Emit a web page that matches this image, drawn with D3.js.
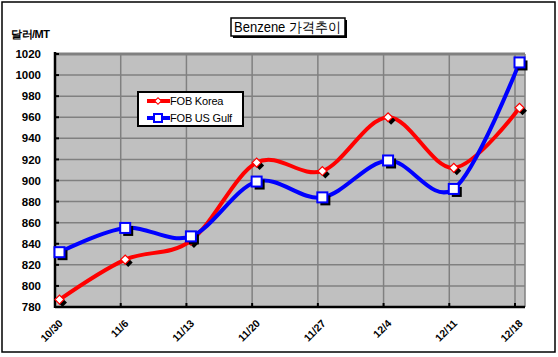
<!DOCTYPE html>
<html><head><meta charset="utf-8">
<script src="https://cdn.jsdelivr.net/npm/d3@7"></script>
<style>body{margin:0;background:#fff}svg{display:block}text{font-family:Arial,"Liberation Sans",sans-serif}</style>
</head><body>
<script>
const categories = ["10/30","11/6","11/13","11/20","11/27","12/4","12/11","12/18"];
const fobKorea = [787, 825, 843, 917, 909, 960, 912, 969];
const fobUSGulf = [832, 855, 847, 899, 884, 919, 892, 1012];
const yTicks = [780,800,820,840,860,880,900,920,940,960,980,1000,1020];
const seriesNames = ["FOB Korea","FOB US Gulf"];
const seriesColors = ["#FF0000","#0000FF"];

const W = 558, H = 357;
const svg = d3.select("body").append("svg").attr("width", W).attr("height", H);

// outer border
svg.append("rect").attr("x",2).attr("y",2).attr("width",553).attr("height",350)
  .attr("fill","#fff").attr("stroke","#000").attr("stroke-width",1.5);

const plot = {l:55, r:525, t:54, b:307};
const y = d3.scaleLinear().domain([780,1020]).range([plot.b, plot.t]);
const x = d3.scalePoint().domain(categories).range([59.5, 519.5]);
const gridOff = -4.5;

// plot area
svg.append("rect").attr("x",plot.l).attr("y",plot.t).attr("width",plot.r-plot.l).attr("height",plot.b-plot.t)
  .attr("fill","#C0C0C0");

// horizontal gridlines
svg.append("g").selectAll("line").data(yTicks.filter(d=>d>780)).join("line")
  .attr("x1",plot.l).attr("x2",plot.r).attr("y1",d=>y(d)).attr("y2",d=>y(d))
  .attr("stroke","#808080").attr("stroke-width",d=>d===1020?3:1.5);
// vertical gridlines
svg.append("g").selectAll("line").data(categories.slice(1)).join("line")
  .attr("x1",d=>x(d)+gridOff).attr("x2",d=>x(d)+gridOff).attr("y1",plot.t).attr("y2",plot.b)
  .attr("stroke","#808080").attr("stroke-width",1.5);
// right edge
svg.append("line").attr("x1",plot.r).attr("x2",plot.r).attr("y1",plot.t).attr("y2",plot.b)
  .attr("stroke","#808080").attr("stroke-width",1.5);

// axes
svg.append("line").attr("x1",plot.l).attr("x2",plot.l).attr("y1",plot.t-2).attr("y2",plot.b+1)
  .attr("stroke","#000").attr("stroke-width",2.5);
svg.append("line").attr("x1",plot.l).attr("x2",plot.r).attr("y1",plot.b).attr("y2",plot.b)
  .attr("stroke","#000").attr("stroke-width",2.5);
// y tick marks
svg.append("g").selectAll("line").data(yTicks).join("line")
  .attr("x1",plot.l).attr("x2",plot.l+4).attr("y1",d=>y(d)).attr("y2",d=>y(d))
  .attr("stroke","#000").attr("stroke-width",2);
// x tick marks
svg.append("g").selectAll("line").data(categories.slice(1)).join("line")
  .attr("x1",d=>x(d)+gridOff).attr("x2",d=>x(d)+gridOff).attr("y1",plot.b).attr("y2",plot.b-4)
  .attr("stroke","#000").attr("stroke-width",2);

// y labels
svg.append("g").selectAll("text").data(yTicks).join("text")
  .attr("x",41).attr("y",d=>y(d)).attr("dy","0.36em").attr("text-anchor","end")
  .attr("font-size",11.5).attr("font-weight","bold").text(d=>d);
// x labels
svg.append("g").selectAll("text").data(categories).join("text")
  .attr("transform",d=>`translate(${x(d)+4},${plot.b+17}) rotate(-45)`)
  .attr("text-anchor","end").attr("font-size",10.5).attr("font-weight","bold").text(d=>d);

// unit
svg.append("text").attr("x",11).attr("y",38).attr("font-size",11).attr("font-weight","bold")
  .attr("font-family","'Noto Sans CJK KR',sans-serif").attr("letter-spacing",-0.5).text("달러/MT");

// title
svg.append("rect").attr("x",233).attr("y",20).attr("width",114).attr("height",18).attr("fill","#000");
svg.append("rect").attr("x",231).attr("y",18).attr("width",114).attr("height",18).attr("fill","#fff")
  .attr("stroke","#000").attr("stroke-width",1.5);
svg.append("text").attr("x",234).attr("y",32).attr("font-size",14)
  .attr("textLength",107).attr("lengthAdjust","spacingAndGlyphs")
  .attr("font-family","Arial,'Noto Sans CJK KR',sans-serif").text("Benzene 가격추이");

// lines
const line = d3.line().x((d,i)=>x(categories[i])).y(d=>y(d)).curve(d3.curveCatmullRom.alpha(0));
const seriesData = [fobKorea, fobUSGulf];
seriesData.forEach((vals,si)=>{
  svg.append("path").datum(vals).attr("d",line).attr("fill","none")
    .attr("stroke",seriesColors[si]).attr("stroke-width",4).attr("stroke-linejoin","round");
});
// markers
const diamond = d3.symbol().type(d3.symbolSquare).size(40);
seriesData.forEach((vals,si)=>{
  const g = svg.append("g");
  vals.forEach((v,i)=>{
    const cx = x(categories[i]), cy = y(v);
    if(si===0){
      g.append("path").attr("d",diamond()).attr("transform",`translate(${cx+3},${cy+3}) rotate(45)`).attr("fill","#000");
      g.append("path").attr("d",diamond()).attr("transform",`translate(${cx},${cy}) rotate(45)`)
        .attr("fill","#fff").attr("stroke",seriesColors[si]).attr("stroke-width",1.2);
    } else {
      g.append("rect").attr("x",cx-5+3).attr("y",cy-5+3).attr("width",10).attr("height",10).attr("fill","#000");
      g.append("rect").attr("x",cx-5).attr("y",cy-5).attr("width",10).attr("height",10)
        .attr("fill","#fff").attr("stroke",seriesColors[si]).attr("stroke-width",2);
    }
  });
});

// legend
const lg = svg.append("g");
lg.append("rect").attr("x",138).attr("y",92).attr("width",105).attr("height",34)
  .attr("fill","#fff").attr("stroke","#000").attr("stroke-width",2);
seriesNames.forEach((name,i)=>{
  const ly = 101 + i*17;
  lg.append("line").attr("x1",147).attr("x2",170).attr("y1",ly).attr("y2",ly)
    .attr("stroke",seriesColors[i]).attr("stroke-width",4);
  if(i===0){
    lg.append("path").attr("d",d3.symbol().type(d3.symbolSquare).size(22)()).attr("transform",`translate(158,${ly}) rotate(45)`)
      .attr("fill","#fff").attr("stroke",seriesColors[i]).attr("stroke-width",1);
  } else {
    lg.append("rect").attr("x",154).attr("y",ly-4).attr("width",8).attr("height",8)
      .attr("fill","#fff").attr("stroke",seriesColors[i]).attr("stroke-width",2);
  }
  lg.append("text").attr("x",170).attr("y",ly).attr("dy","0.36em").attr("font-size",11).attr("letter-spacing",-0.2).text(name);
});
</script>
</body></html>
